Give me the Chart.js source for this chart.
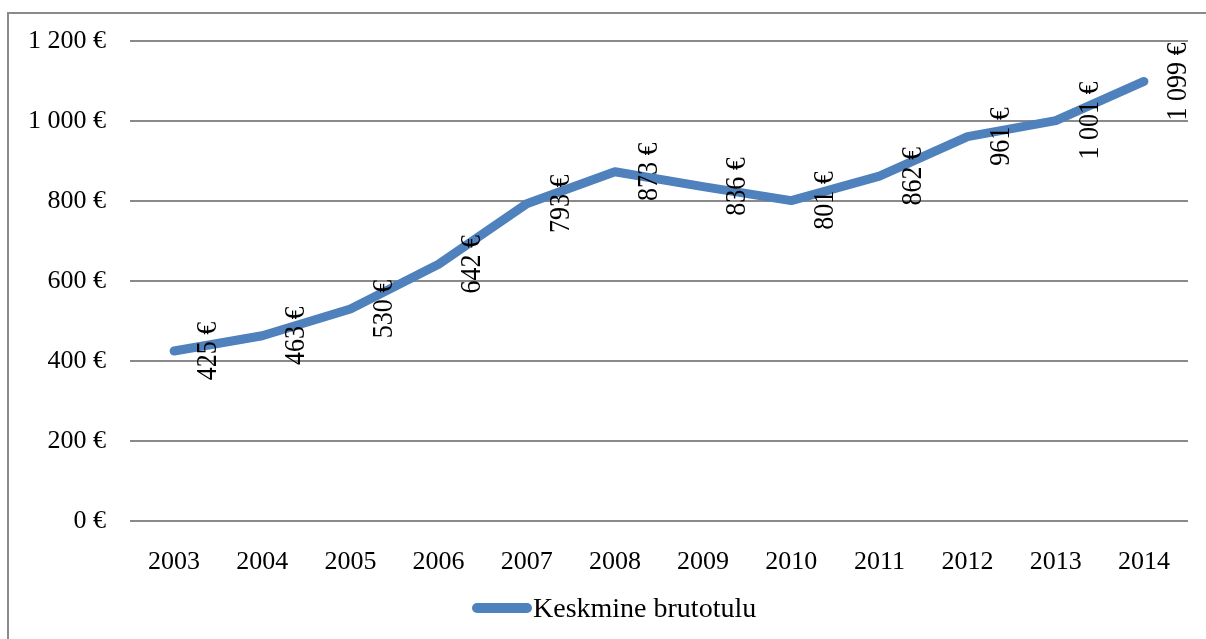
<!DOCTYPE html>
<html>
<head>
<meta charset="utf-8">
<script src="https://cdn.jsdelivr.net/npm/chart.js@4"></script>
<style>
  html, body { margin: 0; padding: 0; background: #fff; overflow: hidden; }
  #wrap { position: relative; width: 1206px; height: 639px; }
  #frame { position: absolute; left: 7px; top: 12px; width: 1300px; height: 700px; border: 2px solid #8a8a8a; }
  canvas { position: absolute; left: 0; top: 0; }
</style>
</head>
<body>
<div id="wrap">
  <div id="frame"></div>
  <canvas id="chart" width="1206" height="639"></canvas>
</div>
<script>
var years = ["2003", "2004", "2005", "2006", "2007", "2008", "2009", "2010", "2011", "2012", "2013", "2014"];
var brutotulu = [425, 463, 530, 642, 793, 873, 836, 801, 862, 961, 1001, 1099];
var seriesName = "Keskmine brutotulu";
var lineColor = "#4F81BD";

function euro(v) {
    return String(v).replace(/\B(?=(\d{3})+(?!\d))/g, " ") + " €";
}

var serif = "'Liberation Serif', 'Times New Roman', serif";

// rotated value labels, to the right of each point
var valueLabels = {
    id: 'valueLabels',
    afterDatasetsDraw: function (chart) {
        var ctx = chart.ctx;
        var meta = chart.getDatasetMeta(0);
        var data = chart.data.datasets[0].data;
        ctx.save();
        ctx.fillStyle = "#000";
        ctx.font = "26px " + serif;
        ctx.textAlign = "center";
        ctx.textBaseline = "middle";
        meta.data.forEach(function (pt, i) {
            ctx.save();
            ctx.translate(pt.x + 34, pt.y);
            ctx.rotate(-Math.PI / 2);
            ctx.scale(1, 1.15);
            ctx.fillText(euro(data[i]), 0, 0);
            ctx.restore();
        });
        ctx.restore();
    }
};

// legend drawn by hand: line sample + text, under the axis
var lineLegend = {
    id: 'lineLegend',
    afterDraw: function (chart) {
        var ctx = chart.ctx;
        var ds = chart.data.datasets[0];
        ctx.save();
        ctx.strokeStyle = ds.borderColor;
        ctx.lineWidth = 10;
        ctx.lineCap = 'round';
        ctx.beginPath();
        ctx.moveTo(477, 608);
        ctx.lineTo(527, 608);
        ctx.stroke();
        ctx.fillStyle = "#000";
        ctx.font = "28px " + serif;
        ctx.textAlign = "left";
        ctx.textBaseline = "alphabetic";
        ctx.fillText(ds.label, 533, 617);
        ctx.restore();
    }
};

var ctx = document.getElementById("chart").getContext("2d");

var chart = new Chart(ctx, {
    type: 'line',
    data: {
        labels: years,
        datasets: [{
            label: seriesName,
            data: brutotulu,
            borderColor: lineColor,
            backgroundColor: lineColor,
            borderWidth: 9,
            borderCapStyle: 'round',
            borderJoinStyle: 'round',
            pointRadius: 0,
            fill: false,
            tension: 0
        }]
    },
    options: {
        responsive: false,
        animation: false,
        layout: { padding: { left: 0, right: 18, top: 41, bottom: 0 } },
        plugins: {
            tooltip: { enabled: false },
            legend: { display: false }
        },
        scales: {
            x: {
                offset: true,
                grid: { display: false },
                border: { display: false },
                ticks: {
                    color: "#000",
                    font: { family: serif, size: 26 },
                    padding: 18,
                    maxRotation: 0
                },
                afterFit: function (scale) { scale.height = 118; }
            },
            y: {
                min: 0,
                max: 1200,
                grid: { color: "#8a8a8a", lineWidth: 2, drawTicks: false },
                border: { display: false },
                ticks: {
                    stepSize: 200,
                    color: "#000",
                    font: { family: serif, size: 26 },
                    padding: 24,
                    callback: function (v) { return euro(v); }
                },
                afterFit: function (scale) { scale.width = 130; }
            }
        }
    },
    plugins: [valueLabels, lineLegend]
});
</script>
</body>
</html>
